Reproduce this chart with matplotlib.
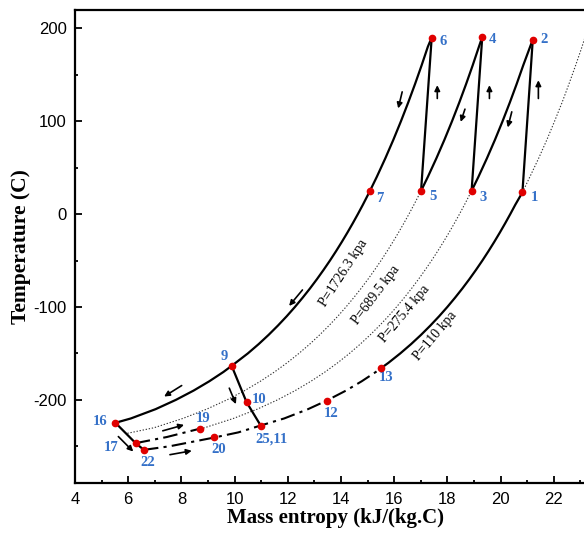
import matplotlib
matplotlib.use("Agg")
import matplotlib.pyplot as plt
from matplotlib.ticker import MultipleLocator

plt.rcParams["axes.unicode_minus"] = False

# state points (entropy kJ/(kg.C), temperature C)
pt_names = ["1", "2", "3", "4", "5", "6", "7", "9", "10", "25,11", "12", "13",
            "16", "17", "19", "20", "22"]
pt_s = [20.82, 21.21, 18.91, 19.31, 17.01, 17.41, 15.09, 9.89, 10.45, 10.98, 13.46, 15.52,
        5.52, 6.28, 8.71, 9.24, 6.59]
pt_T = [23.3, 187.8, 25, 190.6, 25, 190, 25, -163.4, -202.5, -227.6, -200.8, -165.6,
        -224.7, -246.6, -230.9, -240.5, -253.8]
# label offsets in pixels
pt_dx = [12, 11, 11, 10, 12, 11, 10, -7, 13, 11, 5, 5, -15, -24, 3, 4, 4]
pt_dy = [-5, 0, -7, -3, -6, -4, -8, 9, 3, -14, -13, -10, 1, -4, 10, -12, -13]

# P = 1726.3 kPa, from 16 through 9 and 7 up to 6
p1726_s = [5.52, 6.10, 7.03, 7.793, 8.459, 9.048, 9.578, 9.89, 10.498, 10.904, 11.28, 11.63,
           11.959, 12.268, 12.559, 12.836, 13.098, 13.347, 13.586, 13.813, 14.031, 14.24,
           14.441, 14.635, 14.822, 15.09, 15.345, 15.666, 15.969, 16.255, 16.526, 16.784,
           17.03, 17.264, 17.41]
p1726_T = [-224.7, -220, -210, -200, -190, -180, -170, -163.4, -150, -140, -130, -120,
           -110, -100, -90, -80, -70, -60, -50, -40, -30, -20,
           -10, 0, 10, 25, 40, 60, 80, 100, 120, 140,
           160, 180, 190]
# P = 689.5 kPa (dotted), ends at 5
p689_s = [5.97, 6.972, 8.055, 8.95, 9.713, 10.379, 10.968, 11.498, 11.979, 12.418, 12.824,
          13.2, 13.55, 13.879, 14.188, 14.479, 14.756, 15.018, 15.267, 15.506, 15.733,
          15.951, 16.16, 16.361, 16.555, 16.742, 17.01]
p689_T = [-236, -230, -220, -210, -200, -190, -180, -170, -160, -150, -140,
          -130, -120, -110, -100, -90, -80, -70, -60, -50, -40,
          -30, -20, -10, 0, 10, 25]
# P = 275.4 kPa: dash-dot 17 -> 19, dotted 19 -> 3
p275_dd_s = [6.28, 7.45, 8.71]
p275_dd_T = [-246.6, -240, -230.9]
p275_s = [8.71, 8.872, 9.955, 10.85, 11.613, 12.279, 12.868, 13.398, 13.879, 14.318, 14.724,
          15.1, 15.45, 15.779, 16.088, 16.379, 16.656, 16.918, 17.167, 17.406, 17.633,
          17.851, 18.06, 18.261, 18.455, 18.642, 18.91]
p275_T = [-230.9, -230, -220, -210, -200, -190, -180, -170, -160, -150, -140,
          -130, -120, -110, -100, -90, -80, -70, -60, -50, -40,
          -30, -20, -10, 0, 10, 25]
# P = 110 kPa: dash-dot 22 -> 13, solid 13 -> 1, dotted beyond 1
p110_dd_s = [6.59, 7.55, 9.24, 10.14, 10.98, 11.865, 12.76, 13.46, 14.189, 14.778, 15.308, 15.52]
p110_dd_T = [-253.8, -250, -240.5, -235, -227.6, -220, -210, -200.8, -190, -180, -170, -165.6]
p110_s = [15.52, 15.789, 16.228, 16.634, 17.01, 17.36, 17.689, 17.998, 18.289, 18.566, 18.828,
          19.077, 19.316, 19.543, 19.761, 19.97, 20.171, 20.365, 20.552, 20.82]
p110_T = [-165.6, -160, -150, -140, -130, -120, -110, -100, -90, -80, -70,
          -60, -50, -40, -30, -20, -10, 0, 10, 23.3]
p110_dot_s = [20.82, 21.1, 21.43, 21.74, 22.03, 22.31, 22.57, 22.82, 23.06, 23.28]
p110_dot_T = [23.3, 40, 60, 80, 100, 120, 140, 160, 180, 200]

# compression (straight) and intercooling (along isobars)
c12_s, c12_T = [20.82, 21.21], [23.3, 187.8]
c23_s = [21.21, 20.85, 20.604, 20.346, 20.075, 19.789, 19.486, 19.165, 18.91]
c23_T = [187.8, 160, 140, 120, 100, 80, 60, 40, 25]
c34_s, c34_T = [18.91, 19.31], [25, 190.6]
c45_s = [19.31, 19.184, 18.95, 18.704, 18.446, 18.175, 17.889, 17.586, 17.265, 17.01]
c45_T = [190.6, 180, 160, 140, 120, 100, 80, 60, 40, 25]
c56_s, c56_T = [17.01, 17.41], [25, 190]
exp_s = [9.89, 10.45, 10.98]
exp_T = [-163.4, -202.5, -227.6]
exp2_s = [5.52, 6.28, 6.59]
exp2_T = [-224.7, -246.6, -253.8]

# arrows (tail s, tail T, head s, head T)
arrows = [
    (16.30, 131.5, 16.15, 113.7),
    (17.62, 124.4, 17.62, 138.7),
    (18.66, 112.9, 18.50, 99.2),
    (19.58, 124.4, 19.58, 138.7),
    (20.42, 110.0, 20.27, 93.2),
    (21.42, 124.4, 21.42, 144.0),
    (12.55, -81.7, 12.05, -98.9),
    (8.01, -184.6, 7.35, -196.4),
    (9.80, -187.4, 10.05, -204.6),
    (5.63, -239.5, 6.19, -255.6),
    (7.30, -233.3, 8.10, -226.9),
    (7.57, -259.0, 8.39, -254.8),
]

# isobar labels (text, s, T, angle)
iso_labels = [
    ("P=1726.3 kpa", 14.09, -63.8, 57),
    ("P=689.5 kpa", 15.30, -87.0, 53),
    ("P=275.4 kpa", 16.38, -107, 50),
    ("P=110 kpa", 17.55, -131, 50),
]

fig = plt.figure(figsize=(5.84, 5.33), dpi=100)
ax = fig.add_axes([75 / 584, 0.0929, 509 / 584, 0.889])

solid = dict(color="k", lw=1.6)
dotted = dict(color="#333333", lw=0.8, ls=(0, (1.2, 1.6)))
dashdot = dict(color="k", lw=1.5, ls=(0, (7, 2.5, 1.5, 2.5)))

ax.plot(p1726_s, p1726_T, **solid)
ax.plot(p689_s, p689_T, **dotted)
ax.plot(p275_dd_s, p275_dd_T, **dashdot)
ax.plot(p275_s, p275_T, **dotted)
ax.plot(p110_dd_s, p110_dd_T, **dashdot)
ax.plot(p110_s, p110_T, **solid)
ax.plot(p110_dot_s, p110_dot_T, **dotted)
for s, T in [(c12_s, c12_T), (c23_s, c23_T), (c34_s, c34_T), (c45_s, c45_T),
             (c56_s, c56_T), (exp_s, exp_T), (exp2_s, exp2_T)]:
    ax.plot(s, T, **solid)

for ts, tT, hs, hT in arrows:
    ax.annotate("", xy=(hs, hT), xytext=(ts, tT),
                arrowprops=dict(arrowstyle="-|>", color="k", lw=1.2,
                                mutation_scale=8, shrinkA=0, shrinkB=0))

ax.plot(pt_s, pt_T, "o", color="#e00000", ms=4.5, zorder=5)
for n, s, T, dx, dy in zip(pt_names, pt_s, pt_T, pt_dx, pt_dy):
    ax.annotate(n, (s, T), xytext=(dx, dy), textcoords="offset pixels",
                ha="center", va="center", color="#3470c8", fontsize=10.5,
                fontweight="bold", family="Liberation Serif")

for txt, s, T, ang in iso_labels:
    ax.text(s, T, txt, rotation=ang, rotation_mode="anchor", ha="center", va="center",
            fontsize=10, family="Liberation Serif")

ax.set_xlim(4, 4 + 509 / 26.6)
ax.set_ylim(-290, 220)
ax.xaxis.set_major_locator(MultipleLocator(2))
ax.xaxis.set_minor_locator(MultipleLocator(1))
ax.yaxis.set_major_locator(MultipleLocator(100))
ax.yaxis.set_minor_locator(MultipleLocator(50))
ax.tick_params(which="both", direction="in", top=False, right=False, width=1.3)
ax.tick_params(which="major", length=5, pad=6, labelsize=12)
ax.tick_params(which="minor", length=2.5)
for lab in ax.get_xticklabels() + ax.get_yticklabels():
    lab.set_family("Liberation Sans")
for sp in ax.spines.values():
    sp.set_linewidth(1.6)
ax.spines["right"].set_visible(False)

ax.set_xlabel("Mass entropy (kJ/(kg.C)", fontsize=15, fontweight="bold",
              family="Liberation Serif")
ax.set_ylabel("Temperature (C)", fontsize=15.5, fontweight="bold",
              family="Liberation Serif")
ax.xaxis.set_label_coords(0.511, -0.052)
ax.yaxis.set_label_coords(-0.086, 0.5)

fig.savefig("out.png", dpi=100)
